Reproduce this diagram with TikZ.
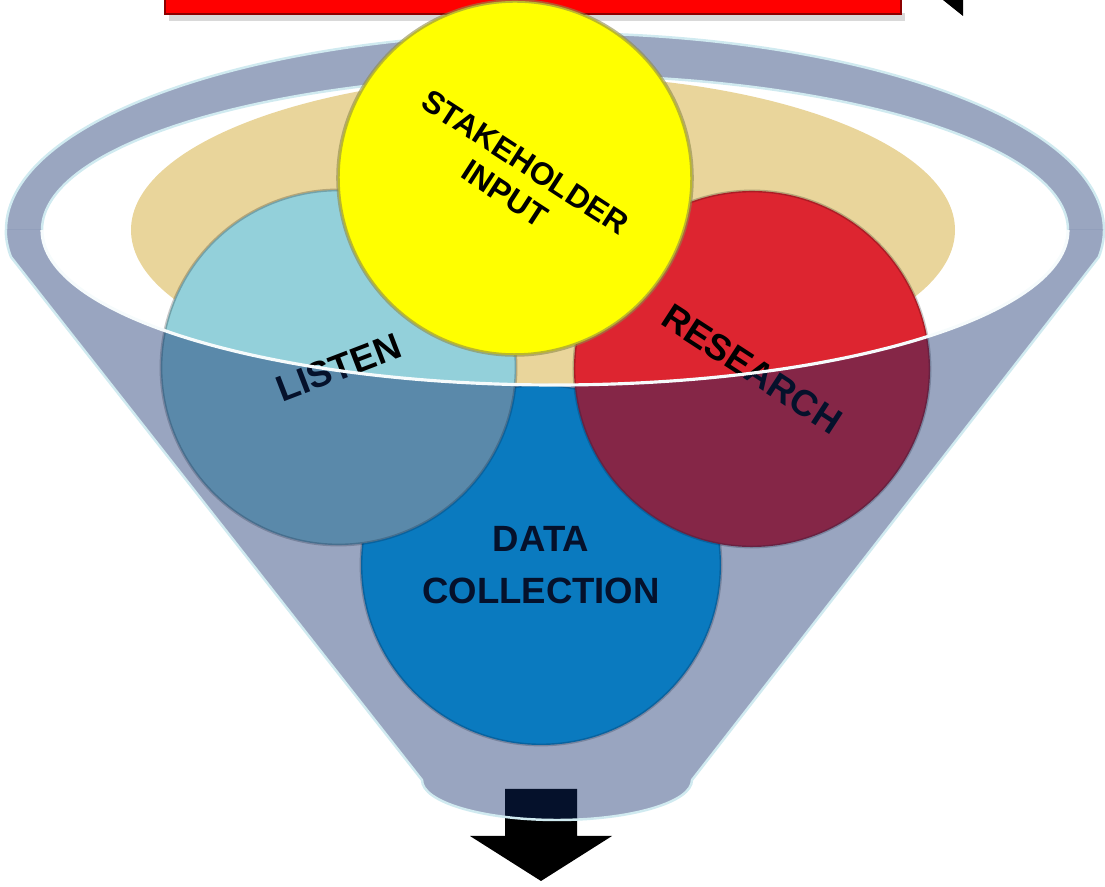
\documentclass[tikz,border=0pt]{standalone}
\usepackage{fontspec}
\newfontfamily\labfont{Liberation Sans}

\definecolor{funnelgrey}{RGB}{154,166,192}
\definecolor{bowltan}{RGB}{233,213,155}
\definecolor{listenblue}{RGB}{147,208,218}
\definecolor{researchred}{RGB}{221,37,48}
\definecolor{datablue}{RGB}{8,181,255}
\definecolor{stakeyellow}{RGB}{255,255,0}
\definecolor{frontnavy}{RGB}{13,41,104}
\definecolor{rimcyan}{RGB}{208,234,240}

\begin{document}
\begin{tikzpicture}[
	bubble/.style={circle, inner sep=0pt, align=center, draw=black, draw opacity=.22, line width=.8pt,
	  font={\labfont\bfseries\fontsize{10.4pt}{14.8pt}\selectfont}},
	rim/.style={draw=rimcyan, line width=.7pt},
]
	\useasboundingbox (0,0) rectangle (11.05,-8.87);

	% banner and arrow tip at the top
	\fill [black, opacity=.15] (1.69,-0.13) rectangle (9.05,-0.21);
	\node at (5.33,0.05) [rectangle, fill=red, draw=red!55!black, line width=.6pt, minimum width=7.36cm, minimum height=0.38cm, inner sep=0pt] (banner) {};
	\fill [black] (9.43,0) -- (9.63,0) -- (9.63,-0.16) -- cycle;

	% back of the funnel
	\fill [funnelgrey] (11.04,-2.30) arc [start angle=0, end angle=180, x radius=5.49, y radius=1.97]
	  -- (0.42,-2.30) arc [start angle=180, end angle=0, x radius=5.13, y radius=1.55] -- cycle;
	\draw [rim] (11.04,-2.30) arc [start angle=0, end angle=180, x radius=5.49, y radius=1.97];
	\draw [rim] (0.42,-2.30) arc [start angle=180, end angle=0, x radius=5.13, y radius=1.55];
	\fill [bowltan] (5.43,-2.30) ellipse [x radius=4.12, y radius=1.55];

	\node at (5.41,-5.65) [bubble, fill=datablue, minimum size=3.6cm] (data) {DATA\\COLLECTION};
	\node at (3.385,-3.675) [bubble, fill=listenblue, minimum size=3.55cm, rotate=21] (listen) {LISTEN};
	\node at (7.52,-3.69) [bubble, fill=researchred, minimum size=3.56cm, rotate=-33] (research) {RESEARCH};
	\node at (5.15,-1.78) [bubble, fill=stakeyellow, draw=yellow!50!black, draw opacity=.6, line width=1pt, minimum size=3.54cm, rotate=-33,
	  font={\labfont\bfseries\fontsize{9pt}{10.6pt}\selectfont}] (stake) {STAKEHOLDER\\INPUT};

	% arrow out of the funnel
	\fill [black] (5.05,-7.89) -- (5.77,-7.89) -- (5.77,-8.36) -- (6.12,-8.36) -- (5.41,-8.81)
	  -- (4.70,-8.36) -- (5.05,-8.36) -- cycle;

	% front of the funnel
	\fill [frontnavy, fill opacity=.42] (0.42,-2.30) arc [start angle=180, end angle=360, x radius=5.13, y radius=1.55]
	  -- (11.04,-2.30) arc [start angle=0, end angle=-7.9, x radius=5.49, y radius=1.97]
	  -- (6.92,-7.80) arc [start angle=0, end angle=-180, x radius=1.35, y radius=.40]
	  -- (0.11,-2.57) arc [start angle=187.9, end angle=180, x radius=5.49, y radius=1.97] -- cycle;
	\draw [rim, draw=white!80!rimcyan, line width=.9pt] (0.42,-2.30) arc [start angle=180, end angle=360, x radius=5.13, y radius=1.55];
	\draw [rim] (11.04,-2.30) arc [start angle=0, end angle=-7.9, x radius=5.49, y radius=1.97]
	  -- (6.92,-7.80) arc [start angle=0, end angle=-180, x radius=1.35, y radius=.40]
	  -- (0.11,-2.57) arc [start angle=187.9, end angle=180, x radius=5.49, y radius=1.97];

\end{tikzpicture}
\end{document}
